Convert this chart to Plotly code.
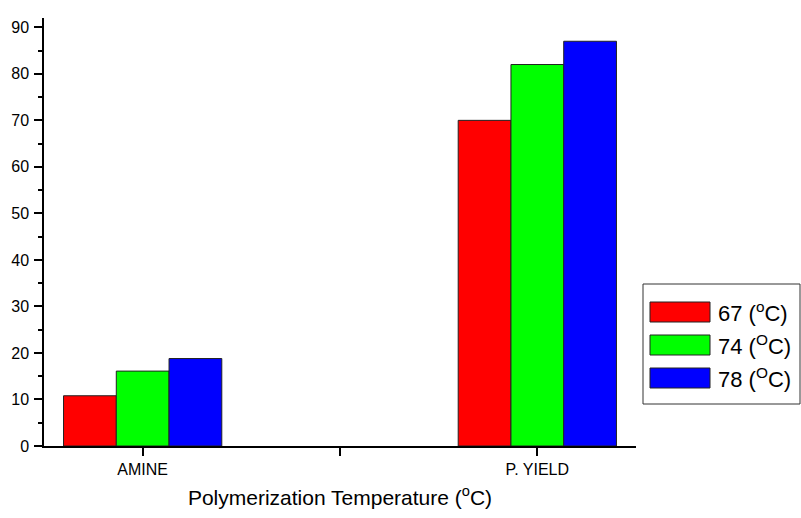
import plotly.graph_objects as go

# Data
categories = ["AMINE", "P. YIELD"]
series_names = ["67 (<sup>o</sup>C)", "74 (<sup>O</sup>C)", "78 (<sup>O</sup>C)"]
values_67 = [10.8, 70]
values_74 = [16.1, 82]
values_78 = [18.8, 87]
series_values = [values_67, values_74, values_78]
colors = ["#FF0000", "#00FF00", "#0000FF"]
x_title = "Polymerization Temperature (<sup>o</sup>C)"

W, H = 801, 518
ML, MR, MT, MB = 44, 165, 18, 72
PW, PH = W - ML - MR, H - MT - MB

FONT = "Arial, Liberation Sans, sans-serif"

def px_x(px):
    return (px - ML) / PW

def px_y(py):
    return (H - MB - py) / PH

xpos = list(range(len(categories)))

fig = go.Figure()
for name, vals, col in zip(series_names, series_values, colors):
    fig.add_trace(go.Bar(
        x=xpos, y=vals, name=name,
        marker=dict(color=col, line=dict(color="#222222", width=1)),
        showlegend=False,
    ))

# Boxed legend with wide colour swatches
shapes = [dict(type="rect", xref="paper", yref="paper",
               x0=px_x(643), x1=px_x(800), y0=px_y(404), y1=px_y(284),
               line=dict(color="#333333", width=1), fillcolor="white")]
annotations = []
for i, (name, col) in enumerate(zip(series_names, colors)):
    top = 302 + 33 * i
    shapes.append(dict(type="rect", xref="paper", yref="paper",
                       x0=px_x(650), x1=px_x(710), y0=px_y(top + 20), y1=px_y(top),
                       line=dict(color="#222222", width=1), fillcolor=col))
    annotations.append(dict(xref="paper", yref="paper", x=px_x(716), y=px_y(top + 10),
                            text=name, showarrow=False, xanchor="left", yanchor="middle",
                            font=dict(family=FONT, size=22, color="black")))

fig.update_layout(
    width=W, height=H,
    margin=dict(l=ML, r=MR, t=MT, b=MB, pad=0),
    paper_bgcolor="white", plot_bgcolor="white",
    barmode="group", bargap=0.599, bargroupgap=0,
    font=dict(family=FONT, color="black"),
    shapes=shapes, annotations=annotations,
    xaxis=dict(
        range=[-0.25, 1.25],
        tickvals=xpos, ticktext=categories,
        ticks="outside", ticklen=8, tickwidth=1.5, tickcolor="black",
        minor=dict(tick0=0, dtick=0.5, ticks="outside", ticklen=8, tickwidth=1.5, tickcolor="black"),
        showline=True, linecolor="black", linewidth=1.5,
        showgrid=False, zeroline=False,
        tickfont=dict(size=16, family=FONT),
        title=dict(text=x_title, font=dict(size=21, family=FONT), standoff=13),
    ),
    yaxis=dict(
        range=[0, 92], dtick=10, tick0=0,
        ticks="outside", ticklen=8, tickwidth=1.5, tickcolor="black",
        minor=dict(dtick=5, ticks="outside", ticklen=4, tickwidth=1.5, tickcolor="black"),
        showline=True, linecolor="black", linewidth=1.5,
        showgrid=False, zeroline=False,
        tickfont=dict(size=16, family=FONT),
        ticklabelstandoff=2,
    ),
)

fig.write_html("out.html")
